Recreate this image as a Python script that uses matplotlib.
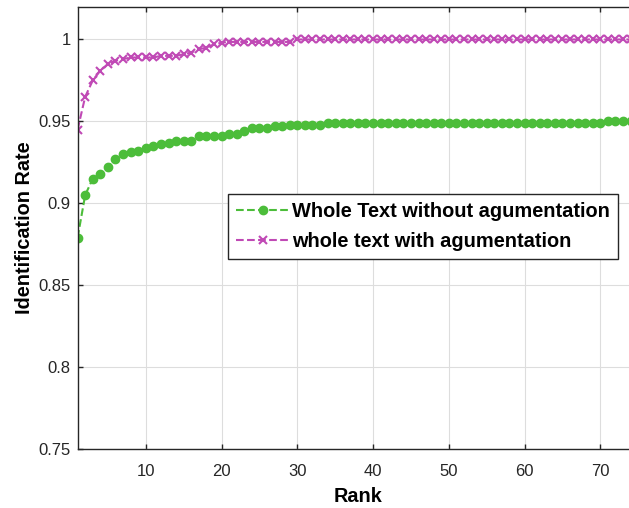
import matplotlib
matplotlib.use('Agg')
import matplotlib.pyplot as plt

# Rank 1..75 (right part of the original plot is cut off)
rank = list(range(1, 76))

# Whole Text without agumentation
rate_no_aug = [
    0.879, 0.905, 0.915, 0.918, 0.922, 0.927, 0.930, 0.931, 0.932, 0.934,
    0.935, 0.936, 0.937, 0.938, 0.938, 0.938, 0.941, 0.941, 0.941, 0.941,
    0.942, 0.942, 0.944, 0.946, 0.946, 0.946, 0.947, 0.947, 0.948, 0.948,
    0.948, 0.948, 0.948, 0.949, 0.949, 0.949, 0.949, 0.949, 0.949, 0.949,
    0.949, 0.949, 0.949, 0.949, 0.949, 0.949, 0.949, 0.949, 0.949, 0.949,
    0.949, 0.949, 0.949, 0.949, 0.949, 0.949, 0.949, 0.949, 0.949, 0.949,
    0.949, 0.949, 0.949, 0.949, 0.949, 0.949, 0.949, 0.949, 0.949, 0.949,
    0.950, 0.950, 0.950, 0.950, 0.950,
]

# whole text with agumentation
rate_aug = [
    0.945, 0.965, 0.975, 0.981, 0.985, 0.987, 0.988, 0.989, 0.989, 0.989,
    0.989, 0.990, 0.990, 0.990, 0.991, 0.992, 0.994, 0.995, 0.997, 0.998,
    0.9985, 0.9985, 0.9985, 0.9985, 0.9985, 0.9985, 0.9985, 0.9985, 0.9985, 1.0,
    1.0, 1.0, 1.0, 1.0, 1.0, 1.0, 1.0, 1.0, 1.0, 1.0,
    1.0, 1.0, 1.0, 1.0, 1.0, 1.0, 1.0, 1.0, 1.0, 1.0,
    1.0, 1.0, 1.0, 1.0, 1.0, 1.0, 1.0, 1.0, 1.0, 1.0,
    1.0, 1.0, 1.0, 1.0, 1.0, 1.0, 1.0, 1.0, 1.0, 1.0,
    1.0, 1.0, 1.0, 1.0, 1.0,
]

x_ticks = [10, 20, 30, 40, 50, 60, 70]
y_ticks = [0.75, 0.8, 0.85, 0.9, 0.95, 1.0]
y_tick_labels = ['0.75', '0.8', '0.85', '0.9', '0.95', '1']

plt.rcParams['font.family'] = 'Liberation Sans'

W, H = 629, 508
fig = plt.figure(figsize=(W / 100, H / 100), dpi=100)
# axes placed in pixels; right edge runs past the figure (cropped original)
left, right, bottom, top = 77.6, 638.2, 449, 6.7
ax = fig.add_axes([left / W, (H - bottom) / H, (right - left) / W, (bottom - top) / H])

green = '#4cbd3a'
magenta = '#c049b5'

ax.plot(rank, rate_no_aug, '--o', color=green, lw=1.5, ms=6,
        label='Whole Text without agumentation')
ax.plot(rank, rate_aug, '--x', color=magenta, lw=1.5, ms=5.5, mew=1.5,
        label='whole text with agumentation')

ax.set_xlim(1, 75)
ax.set_ylim(0.75, 1.02)
ax.set_xticks(x_ticks)
ax.set_yticks(y_ticks)
ax.set_yticklabels(y_tick_labels)

ax.grid(True, color='#dddddd', lw=0.8)
ax.set_axisbelow(True)
ax.tick_params(direction='in', length=3.5, width=1, colors='#262626',
               labelsize=12, top=True, right=False)
ax.tick_params(axis='x', pad=10.5)
ax.tick_params(axis='y', pad=5)
for s in ax.spines.values():
    s.set_color('#262626')
    s.set_linewidth(1)

ax.set_xlabel('Rank', fontsize=14.3, fontweight='bold', labelpad=6)
ax.set_ylabel('Identification Rate', fontsize=14.3, fontweight='bold', labelpad=3)

leg = ax.legend(loc='upper left', bbox_to_anchor=(228.3 / W, 1 - 194 / H),
                bbox_transform=fig.transFigure, borderaxespad=0,
                prop={'weight': 'bold', 'size': 14.4}, fancybox=False,
                framealpha=1, edgecolor='#262626', handlelength=2.7,
                handletextpad=0.1, borderpad=0.4, labelspacing=0.55)
leg.get_frame().set_linewidth(1)

fig.savefig('out.png', dpi=100)
